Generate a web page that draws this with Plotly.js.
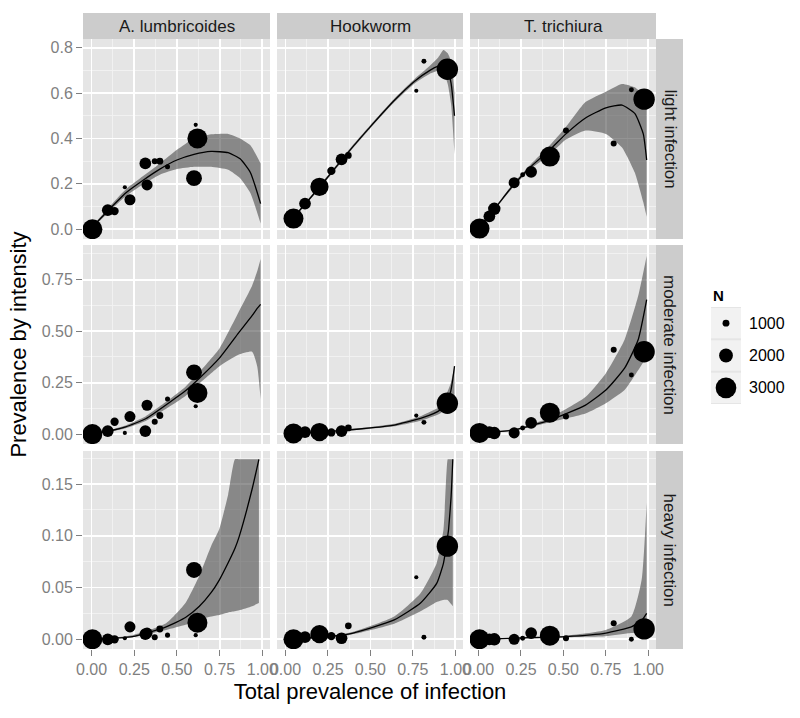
<!DOCTYPE html>
<html><head><meta charset="utf-8">
<script src="https://cdn.plot.ly/plotly-3.0.1.min.js"></script>
<style>html,body{margin:0;padding:0;background:#fff}#chart{width:800px;height:718px}</style>
</head><body><div id="chart"></div>
<script>
// ---------- categories / tick labels ----------
const speciesNames = ['A. lumbricoides', 'Hookworm', 'T. trichiura'];
const intensityNames = ['light infection', 'moderate infection', 'heavy infection'];
const xTickVals = [0, 0.25, 0.5, 0.75, 1];
const xTickText = ['0.00', '0.25', '0.50', '0.75', '1.00'];
const lightTickVals = [0, 0.2, 0.4, 0.6, 0.8];
const lightTickText = ['0.0', '0.2', '0.4', '0.6', '0.8'];
const moderateTickVals = [0, 0.25, 0.5, 0.75];
const moderateTickText = ['0.00', '0.25', '0.50', '0.75'];
const heavyTickVals = [0, 0.05, 0.1, 0.15];
const heavyTickText = ['0.00', '0.05', '0.10', '0.15'];
const legendN = [1000, 2000, 3000];
const legendTitle = 'N';
const xTitle = 'Total prevalence of infection';
const yTitle = 'Prevalence by intensity';

// ---------- study data: A. lumbricoides ----------
const alTotal    = [0.005, 0.095, 0.135, 0.195, 0.225, 0.325, 0.315, 0.37, 0.40, 0.445, 0.60, 0.62, 0.61];
const alN        = [2900, 1700, 1200, 600, 1600, 1600, 1700, 870, 1000, 730, 2300, 2900, 600];
const alLight    = [0.0, 0.084, 0.08, 0.185, 0.13, 0.195, 0.29, 0.30, 0.30, 0.275, 0.225, 0.40, 0.46];
const alModerate = [0.0, 0.015, 0.06, 0.006, 0.085, 0.14, 0.015, 0.06, 0.09, 0.17, 0.30, 0.20, 0.135];
const alHeavy    = [0.0, 0.0, 0.0, 0.001, 0.012, 0.006, 0.005, 0.002, 0.01, 0.004, 0.067, 0.016, 0.004];

// ---------- study data: Hookworm ----------
const hwTotal    = [0.047, 0.115, 0.20, 0.27, 0.33, 0.37, 0.77, 0.815, 0.953];
const hwN        = [2900, 1700, 2650, 1200, 1700, 970, 600, 720, 3100];
const hwLight    = [0.047, 0.113, 0.187, 0.257, 0.308, 0.325, 0.61, 0.74, 0.705];
const hwModerate = [0.003, 0.01, 0.01, 0.008, 0.015, 0.03, 0.09, 0.057, 0.15];
const hwHeavy    = [0.0, 0.002, 0.005, 0.003, 0.001, 0.013, 0.06, 0.002, 0.09];

// ---------- study data: T. trichiura ----------
const ttTotal    = [0.006, 0.064, 0.093, 0.21, 0.26, 0.31, 0.42, 0.515, 0.796, 0.90, 0.975];
const ttN        = [2900, 1700, 1800, 1600, 720, 1700, 2900, 870, 870, 720, 3100];
const ttLight    = [0.003, 0.057, 0.09, 0.205, 0.24, 0.253, 0.32, 0.435, 0.378, 0.614, 0.573];
const ttModerate = [0.006, 0.01, 0.005, 0.006, 0.03, 0.055, 0.104, 0.085, 0.41, 0.287, 0.40];
const ttHeavy    = [0.0, 0.0, 0.0, 0.0, 0.001, 0.006, 0.0035, 0.001, 0.0155, 0.0, 0.01];

// ---------- fitted curves ----------
const alLightFitX = [0.005, 0.1, 0.2, 0.3, 0.4, 0.5, 0.6, 0.7, 0.8, 0.87, 0.93, 0.99];
const alLightFit  = [0.01, 0.085, 0.16, 0.215, 0.265, 0.305, 0.33, 0.343, 0.337, 0.31, 0.25, 0.113];
const alLightLo   = [0.005, 0.075, 0.145, 0.197, 0.24, 0.265, 0.275, 0.275, 0.262, 0.225, 0.16, 0.025];
const alLightHi   = [0.015, 0.095, 0.175, 0.233, 0.29, 0.35, 0.40, 0.418, 0.42, 0.40, 0.37, 0.29];

const hwLightFitX = [0.05, 0.2, 0.37, 0.5, 0.64, 0.76, 0.85, 0.9, 0.93, 0.955, 0.975, 0.995];
const hwLightFit  = [0.054, 0.185, 0.34, 0.452, 0.567, 0.652, 0.70, 0.718, 0.722, 0.70, 0.643, 0.5];
const hwLightLo   = [0.05, 0.178, 0.333, 0.445, 0.559, 0.642, 0.685, 0.698, 0.69, 0.64, 0.55, 0.33];
const hwLightHi   = [0.058, 0.192, 0.347, 0.459, 0.575, 0.662, 0.72, 0.758, 0.79, 0.775, 0.74, 0.6];

const ttLightFitX = [0.006, 0.1, 0.2, 0.3, 0.42, 0.515, 0.63, 0.75, 0.845, 0.92, 0.97, 0.99];
const ttLightFit  = [0.01, 0.095, 0.19, 0.27, 0.35, 0.42, 0.49, 0.535, 0.547, 0.51, 0.42, 0.305];
const ttLightLo   = [0.005, 0.09, 0.182, 0.26, 0.33, 0.395, 0.435, 0.42, 0.36, 0.25, 0.12, 0.055];
const ttLightHi   = [0.015, 0.10, 0.198, 0.28, 0.37, 0.45, 0.56, 0.606, 0.64, 0.625, 0.59, 0.57];

const alModFitX = [0.01, 0.13, 0.2, 0.32, 0.45, 0.55, 0.63, 0.75, 0.86, 0.94, 0.97, 0.99];
const alModFit  = [0.003, 0.02, 0.035, 0.076, 0.15, 0.21, 0.27, 0.37, 0.49, 0.575, 0.61, 0.63];
const alModLo   = [0.002, 0.015, 0.028, 0.065, 0.13, 0.185, 0.245, 0.33, 0.385, 0.40, 0.33, 0.17];
const alModHi   = [0.004, 0.025, 0.042, 0.088, 0.165, 0.23, 0.30, 0.417, 0.59, 0.72, 0.79, 0.85];

const hwModFitX = [0.05, 0.2, 0.37, 0.5, 0.64, 0.795, 0.91, 0.97, 0.995];
const hwModFit  = [0.003, 0.01, 0.02, 0.03, 0.044, 0.076, 0.117, 0.2, 0.33];
const hwModLo   = [0.002, 0.008, 0.017, 0.026, 0.038, 0.065, 0.1, 0.15, 0.17];
const hwModHi   = [0.004, 0.012, 0.023, 0.034, 0.05, 0.087, 0.135, 0.24, 0.33];

const ttModFitX = [0.006, 0.21, 0.42, 0.63, 0.75, 0.86, 0.94, 0.99];
const ttModFit  = [0.006, 0.02, 0.068, 0.141, 0.214, 0.32, 0.458, 0.653];
const ttModLo   = [0.005, 0.017, 0.058, 0.10, 0.15, 0.214, 0.31, 0.376];
const ttModHi   = [0.007, 0.024, 0.08, 0.18, 0.296, 0.458, 0.67, 0.864];

const alHeavyFitX = [0.01, 0.24, 0.437, 0.55, 0.63, 0.7, 0.747, 0.8, 0.84, 0.864, 0.94, 0.98];
const alHeavyFit  = [0.0, 0.0026, 0.012, 0.021, 0.0316, 0.045, 0.057, 0.074, 0.088, 0.099, 0.145, 0.174];
const alHeavyLo   = [0.0, 0.002, 0.009, 0.014, 0.0187, 0.022, 0.0235, 0.026, 0.027, 0.028, 0.032, 0.035];
const alHeavyHi   = [0.0, 0.004, 0.0155, 0.035, 0.061, 0.09, 0.106, 0.14, 0.174, 0.174, 0.174, 0.174];

const hwHeavyFitX = [0.05, 0.37, 0.64, 0.795, 0.89, 0.93, 0.955, 0.96, 0.975, 0.985];
const hwHeavyFit  = [0.0, 0.005, 0.0187, 0.035, 0.054, 0.0736, 0.1, 0.106, 0.138, 0.174];
const hwHeavyLo   = [0.0, 0.004, 0.015, 0.027, 0.036, 0.038, 0.038, 0.037, 0.034, 0.032];
const hwHeavyHi   = [0.0, 0.006, 0.022, 0.0445, 0.0736, 0.106, 0.174, 0.174, 0.174, 0.174];

const ttHeavyFitX = [0.006, 0.3, 0.515, 0.75, 0.9, 0.96, 0.99];
const ttHeavyFit  = [0.0, 0.0015, 0.0026, 0.006, 0.012, 0.018, 0.025];
const ttHeavyLo   = [0.0, 0.001, 0.002, 0.003, 0.006, 0.006, 0.006];
const ttHeavyHi   = [0.0, 0.002, 0.0035, 0.009, 0.022, 0.057, 0.132];

// ---------- assemble ----------
const speciesData = [
  {total: alTotal, N: alN, rows: [alLight, alModerate, alHeavy],
   fits: [[alLightFitX, alLightFit, alLightLo, alLightHi], [alModFitX, alModFit, alModLo, alModHi], [alHeavyFitX, alHeavyFit, alHeavyLo, alHeavyHi]]},
  {total: hwTotal, N: hwN, rows: [hwLight, hwModerate, hwHeavy],
   fits: [[hwLightFitX, hwLightFit, hwLightLo, hwLightHi], [hwModFitX, hwModFit, hwModLo, hwModHi], [hwHeavyFitX, hwHeavyFit, hwHeavyLo, hwHeavyHi]]},
  {total: ttTotal, N: ttN, rows: [ttLight, ttModerate, ttHeavy],
   fits: [[ttLightFitX, ttLightFit, ttLightLo, ttLightHi], [ttModFitX, ttModFit, ttModLo, ttModHi], [ttHeavyFitX, ttHeavyFit, ttHeavyLo, ttHeavyHi]]}
];
const rowTicks = [[lightTickVals, lightTickText], [moderateTickVals, moderateTickText], [heavyTickVals, heavyTickText]];
const rowRanges = [[-0.043, 0.838], [-0.048, 0.918], [-0.0094, 0.182]];
const rowMinor = [0.1, 0.125, 0.025];

const W = 800, H = 718;
const colsPx = [[83, 270], [277, 463], [470, 656]];
const rowsPx = [[39, 239], [245, 444], [451, 649]];
const FONT = 'Liberation Sans, Arial, sans-serif';
const SIZEREF = 145;
const RIBBON = 'rgba(50,50,50,0.52)';
const SMOOTH = 0.5;

const traces = [];
const layout = {
  width: W, height: H,
  margin: {l: 0, r: 0, t: 0, b: 0},
  paper_bgcolor: '#ffffff',
  plot_bgcolor: '#E5E5E5',
  showlegend: false,
  font: {family: FONT, color: '#000'},
  shapes: [], annotations: []
};

function xd(p) { return [p[0] / W, p[1] / W]; }
function yd(p) { return [1 - p[1] / H, 1 - p[0] / H]; }

for (let r = 0; r < 3; r++) {
  for (let c = 0; c < 3; c++) {
    const k = r * 3 + c + 1;
    const xa = k === 1 ? 'x' : 'x' + k;
    const ya = k === 1 ? 'y' : 'y' + k;
    const sd = speciesData[c];
    const [fx, fy, flo, fhi] = sd.fits[r];
    // ribbon
    traces.push({x: fx, y: flo, xaxis: xa, yaxis: ya, type: 'scatter', mode: 'lines',
      line: {width: 0, shape: 'spline', smoothing: SMOOTH}, hoverinfo: 'skip'});
    traces.push({x: fx, y: fhi, xaxis: xa, yaxis: ya, type: 'scatter', mode: 'lines',
      line: {width: 0, shape: 'spline', smoothing: SMOOTH}, fill: 'tonexty', fillcolor: RIBBON, hoverinfo: 'skip'});
    // fit line
    traces.push({x: fx, y: fy, xaxis: xa, yaxis: ya, type: 'scatter', mode: 'lines',
      line: {width: 1.3, color: '#000', shape: 'spline', smoothing: SMOOTH}});
    // points
    traces.push({x: sd.total, y: sd.rows[r], xaxis: xa, yaxis: ya, type: 'scatter', mode: 'markers',
      marker: {color: '#000', opacity: 1, size: sd.N, sizemode: 'diameter', sizeref: SIZEREF, line: {width: 0}}});

    const xKey = k === 1 ? 'xaxis' : 'xaxis' + k;
    const yKey = k === 1 ? 'yaxis' : 'yaxis' + k;
    layout[xKey] = {
      domain: xd(colsPx[c]), anchor: ya, range: [-0.05, 1.045], fixedrange: true,
      tickmode: 'array', tickvals: xTickVals, ticktext: xTickText,
      showticklabels: r === 2, ticks: r === 2 ? 'outside' : '', ticklen: 6, tickwidth: 1, tickcolor: '#7F7F7F',
      tickfont: {size: 16, color: '#7F7F7F', family: FONT},
      showgrid: true, gridcolor: '#FFFFFF', gridwidth: 1.8, zeroline: false, showline: false,
      minor: {tickmode: 'linear', tick0: 0, dtick: 0.125, showgrid: true, gridcolor: '#F2F2F2', gridwidth: 0.9, ticks: ''}
    };
    layout[yKey] = {
      domain: yd(rowsPx[r]), anchor: xa, range: rowRanges[r], fixedrange: true,
      tickmode: 'array', tickvals: rowTicks[r][0], ticktext: rowTicks[r][1],
      showticklabels: c === 0, ticks: c === 0 ? 'outside' : '', ticklen: 6, tickwidth: 1, tickcolor: '#7F7F7F',
      tickfont: {size: 16, color: '#7F7F7F', family: FONT},
      showgrid: true, gridcolor: '#FFFFFF', gridwidth: 1.8, zeroline: false, showline: false,
      minor: {tickmode: 'linear', tick0: 0, dtick: rowMinor[r], showgrid: true, gridcolor: '#F2F2F2', gridwidth: 0.9, ticks: ''}
    };
  }
}

// axis titles
layout.xaxis8.title = {text: xTitle, font: {size: 22, color: '#000', family: FONT}, standoff: 6};
layout.yaxis4.title = {text: yTitle, font: {size: 22, color: '#000', family: FONT}, standoff: 8};

// strips
for (let c = 0; c < 3; c++) {
  layout.shapes.push({type: 'rect', xref: 'paper', yref: 'paper', layer: 'below',
    x0: colsPx[c][0] / W, x1: colsPx[c][1] / W, y0: 1 - 39 / H, y1: 1 - 13 / H,
    fillcolor: '#CCCCCC', line: {width: 0}});
  layout.annotations.push({xref: 'paper', yref: 'paper', x: (colsPx[c][0] + colsPx[c][1]) / 2 / W, y: 1 - 26 / H,
    text: speciesNames[c], showarrow: false, xanchor: 'center', yanchor: 'middle',
    font: {size: 17, color: '#1A1A1A', family: FONT}});
}
for (let r = 0; r < 3; r++) {
  layout.shapes.push({type: 'rect', xref: 'paper', yref: 'paper', layer: 'below',
    x0: 656 / W, x1: 683 / W, y0: 1 - rowsPx[r][1] / H, y1: 1 - rowsPx[r][0] / H,
    fillcolor: '#CCCCCC', line: {width: 0}});
  layout.annotations.push({xref: 'paper', yref: 'paper', x: 669.5 / W, y: 1 - (rowsPx[r][0] + rowsPx[r][1]) / 2 / H,
    text: intensityNames[r], showarrow: false, textangle: 90, xanchor: 'center', yanchor: 'middle',
    font: {size: 17, color: '#1A1A1A', family: FONT}});
}

// legend as a small subplot
layout.xaxis10 = {domain: [711 / W, 741 / W], anchor: 'y10', range: [0, 1], visible: false, fixedrange: true};
layout.yaxis10 = {domain: [1 - 404 / H, 1 - 307 / H], anchor: 'x10', range: [3.5, 0.5], visible: false, fixedrange: true};
const legY = legendN.map((n, i) => i + 1);
legendN.forEach((n, i) => {
  layout.shapes.push({type: 'rect', xref: 'x10', yref: 'y10', layer: 'below',
    x0: 0, x1: 1, y0: legY[i] - 0.47, y1: legY[i] + 0.47, fillcolor: '#F2F2F2', line: {width: 0}});
  layout.annotations.push({xref: 'paper', yref: 'y10', x: 747 / W, y: legY[i], text: String(n),
    showarrow: false, xanchor: 'left', yanchor: 'middle', font: {size: 16, color: '#000', family: FONT}});
});
traces.push({x: legendN.map(() => 0.5), y: legY, xaxis: 'x10', yaxis: 'y10', type: 'scatter', mode: 'markers',
  marker: {color: '#000', opacity: 1, size: legendN, sizemode: 'diameter', sizeref: SIZEREF, line: {width: 0}}, hoverinfo: 'skip'});
layout.annotations.push({xref: 'paper', yref: 'paper', x: 711 / W, y: 1 - 295 / H, text: '<b>' + legendTitle + '</b>',
  showarrow: false, xanchor: 'left', yanchor: 'middle', font: {size: 15, color: '#000', family: FONT}});

Plotly.newPlot('chart', traces, layout, {staticPlot: true, displayModeBar: false});
</script>
</body></html>
